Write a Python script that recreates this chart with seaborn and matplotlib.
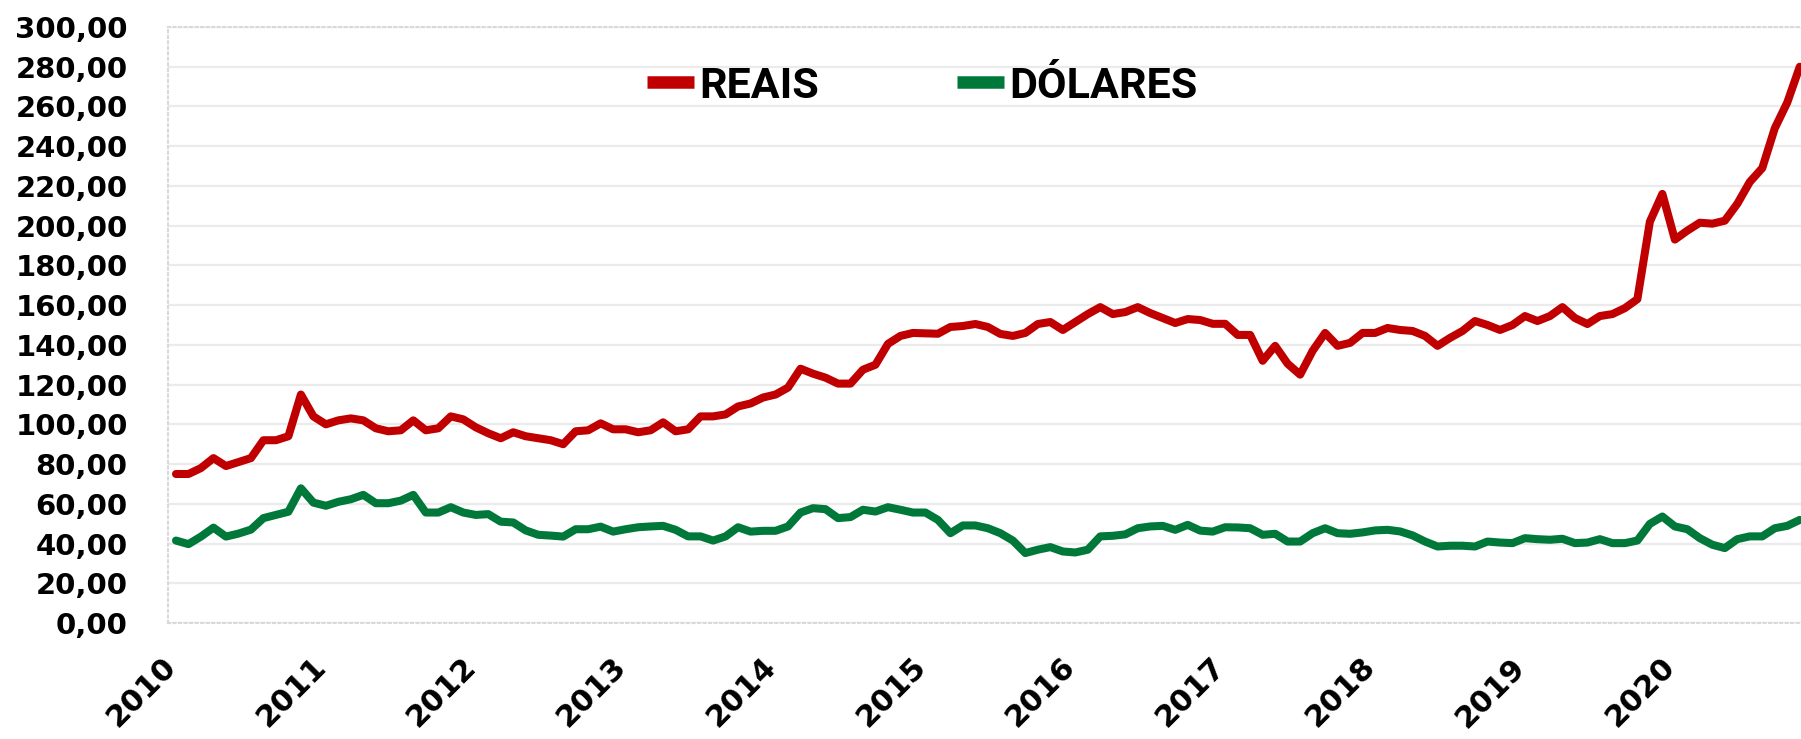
import matplotlib
matplotlib.use("Agg")
import matplotlib.pyplot as plt
import matplotlib.transforms as mtransforms
import seaborn as sns
import numpy as np
import pandas as pd
from matplotlib.ticker import FuncFormatter, FixedLocator, MultipleLocator

# dados mensais (jan/2010 em diante)
anos = [str(a) for a in range(2010, 2021)]

reais = [75, 75, 78, 83, 79, 81, 83, 92, 92, 94,
         115, 104, 100, 102, 103, 102, 98, 96.5, 97, 102,
         97, 98, 104, 102.5, 98.5, 95.5, 93, 96, 94, 93,
         92, 90, 96.5, 97, 100.5, 97.5, 97.5, 96, 97, 101,
         96.5, 97.5, 104, 104, 105, 109, 110.5, 113.5, 115, 118.5,
         128, 125.5, 123.5, 120.5, 120.5, 127.5, 130, 140.5, 144.5, 146,
         145.8, 145.6, 149, 149.5, 150.5, 149, 145.5, 144.5, 146, 150.5,
         151.5, 147.5, 151.5, 155.5, 159, 155.5, 156.5, 159, 156, 153.5,
         151, 153, 152.5, 150.6, 150.6, 145, 145, 132, 139.5, 130.5,
         125, 137, 146, 139.5, 141, 146, 146, 148.5, 147.5, 147,
         144.5, 139.5, 143.5, 147, 152, 150, 147.5, 150, 154.5, 152,
         154.5, 159, 153.5, 150.5, 154.5, 155.5, 158.5, 163, 202, 216,
         193, 197.5, 201.5, 201, 202.5, 211, 222, 229, 249, 262, 280]

dolares = [41.5, 39.7, 43.5, 48, 43.5, 45, 47, 52.8, 54.4, 56,
           67.8, 60.6, 59, 61, 62.3, 64.5, 60.3, 60.3, 61.6, 64.5,
           55.6, 55.6, 58.3, 55.6, 54.4, 54.8, 51, 50.6, 46.6, 44.4,
           44, 43.5, 47.2, 47.2, 48.5, 46, 47.2, 48.2, 48.6, 48.9,
           46.9, 43.6, 43.6, 41.5, 43.6, 48.2, 46, 46.4, 46.4, 48.6,
           55.6, 57.8, 57.3, 52.8, 53.3, 57, 56.1, 58.3, 57, 55.6,
           55.6, 51.9, 45.2, 49.1, 49.1, 47.7, 45.2, 41.5, 35.2, 36.9,
           38.2, 36, 35.5, 36.9, 43.6, 43.9, 44.6, 47.7, 48.6, 48.9,
           46.9, 49.4, 46.5, 46, 48.2, 48.1, 47.7, 44.4, 44.9, 41,
           41, 45.2, 47.7, 45.2, 44.9, 45.6, 46.6, 46.9, 46.1, 44.1,
           41, 38.5, 38.9, 38.9, 38.5, 41, 40.5, 40.2, 42.7, 42.2,
           41.9, 42.4, 40.2, 40.5, 42.2, 40.2, 40.2, 41.5, 49.9, 53.6,
           48.6, 47.2, 42.7, 39.4, 37.7, 42.2, 43.6, 43.6, 47.7, 48.9, 51.9]

series = ["REAIS", "DÓLARES"]
cores = {"REAIS": "#C00000", "DÓLARES": "#00783A"}

meses = np.arange(len(reais))
df = pd.DataFrame({
    "mes": np.concatenate([meses, meses]),
    "valor": reais + dolares,
    "serie": [series[0]] * len(reais) + [series[1]] * len(dolares),
})

sns.set_theme(style="white")
plt.rcParams["font.family"] = ["DejaVu Sans"]

W, H = 1801, 739
fig = plt.figure(figsize=(W / 100, H / 100), dpi=100)
ax = fig.add_axes([168 / W, 1 - 623 / H, 1 - 168 / W, (623 - 27) / H])

sns.lineplot(data=df, x="mes", y="valor", hue="serie", hue_order=series,
             palette=cores, linewidth=5.8, ax=ax, legend=True)

ax.set_xlim(-0.64, 130.1)
ax.set_ylim(0, 300)
ax.yaxis.set_major_locator(MultipleLocator(20))
ax.yaxis.set_major_formatter(FuncFormatter(lambda v, p: f"{v:.2f}".replace(".", ",")))
ax.xaxis.set_major_locator(FixedLocator(np.arange(0, 121, 12)))
ax.set_xticklabels(anos)
ax.set_xlabel("")
ax.set_ylabel("")

ax.grid(axis="y", color="#EBEBEB", linewidth=1.6)
ax.grid(axis="x", visible=False)
ax.set_axisbelow(True)
for s in ["left", "bottom", "top"]:
    ax.spines[s].set_color("#D9D9D9")
    ax.spines[s].set_linestyle(":")
    ax.spines[s].set_linewidth(1.5)
ax.spines["right"].set_visible(False)

ax.tick_params(axis="y", length=0, pad=29, labelsize=21, labelcolor="black")
ax.tick_params(axis="x", length=0, pad=21, labelsize=22, labelcolor="black")
shift = mtransforms.ScaledTranslation(6 / 100, 0, fig.dpi_scale_trans)
for t in ax.get_yticklabels():
    t.set_fontweight("bold")
for t in ax.get_xticklabels():
    t.set_fontweight("bold")
    t.set_rotation(45)
    t.set_ha("right")
    t.set_va("top")
    t.set_transform(t.get_transform() + shift)

handles, labels = ax.get_legend_handles_labels()
leg = ax.legend(handles, labels, loc="center", bbox_to_anchor=(922 / W, 1 - 86 / H),
                bbox_transform=fig.transFigure, ncol=2, frameon=False,
                prop=dict(family="Roboto", weight="bold", size=31),
                handlelength=1.1, handletextpad=0.12, columnspacing=3.2)
for txt in leg.get_texts():
    txt.set_color("black")
for ln in leg.get_lines():
    ln.set_linewidth(9)
    ln.set_solid_capstyle("butt")

fig.savefig("out.png", dpi=100)
